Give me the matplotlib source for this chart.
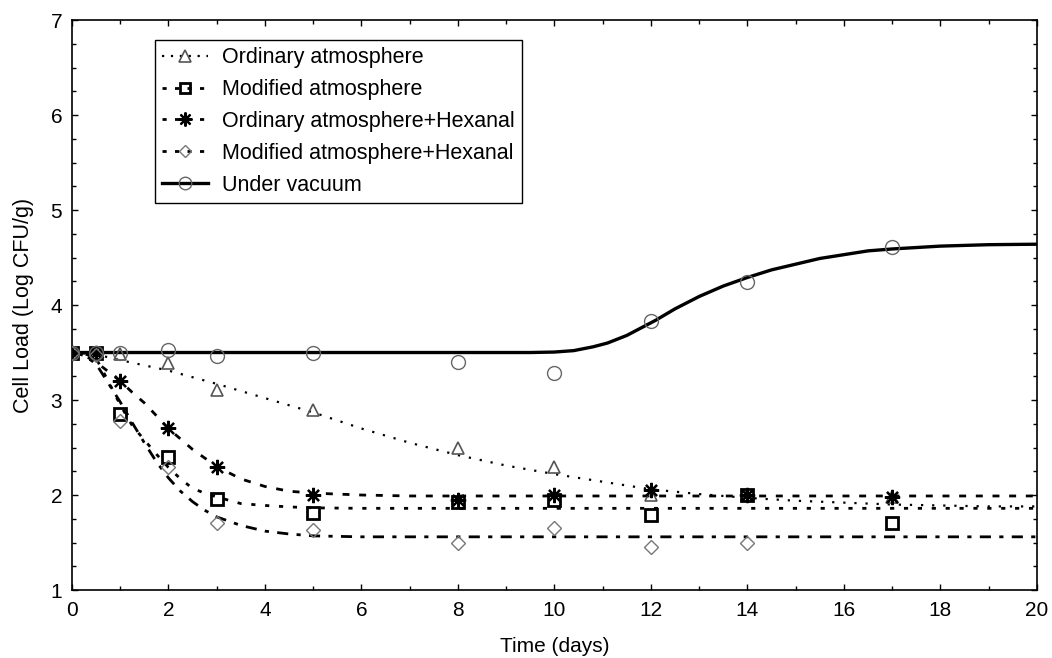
import matplotlib
matplotlib.use("Agg")
import matplotlib.pyplot as plt
from matplotlib.ticker import MultipleLocator

plt.rcParams['font.family'] = ['Liberation Sans', 'DejaVu Sans']

# ---- observed data (days, log CFU/g) ----
t_obs = [0, 0.5, 1, 2, 3, 5, 8, 10, 12, 14, 17]
oa_obs = [3.5, 3.5, 3.48, 3.39, 3.11, 2.89, 2.49, 2.29, 2.0, 2.0, 1.98]
ma_obs = [3.5, 3.5, 2.85, 2.40, 1.96, 1.81, 1.93, 1.95, 1.79, 2.0, 1.71]
oah_obs = [3.5, 3.5, 3.2, 2.71, 2.29, 2.0, 1.95, 2.0, 2.05, 2.0, 1.98]
t_mah = [0, 0.5, 1, 2, 3, 5, 8, 10, 12, 14]
mah_obs = [3.5, 3.47, 2.78, 2.29, 1.71, 1.63, 1.5, 1.65, 1.45, 1.49]
uv_obs = [3.5, 3.5, 3.5, 3.53, 3.46, 3.49, 3.4, 3.28, 3.83, 4.24, 4.61]

# ---- fitted curves ----
oa_fit_t = [0, 0.5, 1, 2, 3, 4, 5, 6, 7, 8, 9, 10, 11, 12, 13, 14, 15, 16, 17, 18, 19, 20]
oa_fit_y = [3.5, 3.48, 3.42, 3.31, 3.17, 3.02, 2.87, 2.70, 2.55, 2.42, 2.31, 2.22, 2.14,
            2.06, 2.01, 1.97, 1.94, 1.92, 1.90, 1.89, 1.88, 1.88]
ma_fit_t = [0, 0.25, 0.5, 0.75, 1.0, 1.25, 1.5, 1.75, 2.0, 2.25, 2.5, 2.75, 3.0, 3.5, 4, 4.5, 5, 6, 20]
ma_fit_y = [3.5, 3.49, 3.44, 3.2, 2.95, 2.73, 2.58, 2.43, 2.29, 2.17, 2.07, 2.02, 1.98,
            1.91, 1.89, 1.875, 1.865, 1.86, 1.86]
oah_fit_t = [0, 0.25, 0.5, 0.75, 1.0, 1.25, 1.5, 2.0, 2.5, 3.0, 3.5, 4, 4.5, 5, 6, 7, 20]
oah_fit_y = [3.5, 3.47, 3.4, 3.3, 3.2, 3.08, 2.97, 2.7, 2.48, 2.3, 2.17, 2.09, 2.04, 2.02,
             2.0, 1.99, 1.99]
mah_fit_t = [0, 0.25, 0.5, 0.75, 1.0, 1.25, 1.5, 1.75, 2.0, 2.25, 2.5, 2.75, 3.0, 3.5, 4, 4.5, 5, 6, 20]
mah_fit_y = [3.5, 3.47, 3.38, 3.18, 2.98, 2.76, 2.55, 2.35, 2.18, 2.04, 1.93, 1.84, 1.77,
             1.68, 1.62, 1.59, 1.57, 1.56, 1.56]
uv_fit_t = [0, 9.5, 10, 10.4, 10.8, 11.1, 11.5, 11.8, 12.1, 12.5, 13.0, 13.5, 14.0, 14.5,
            15.0, 15.5, 16, 16.5, 17, 18, 19, 20]
uv_fit_y = [3.5, 3.5, 3.505, 3.52, 3.56, 3.6, 3.68, 3.76, 3.84, 3.96, 4.09, 4.2, 4.29, 4.37,
            4.43, 4.49, 4.53, 4.57, 4.59, 4.62, 4.635, 4.64]

labels = ['Ordinary atmosphere', 'Modified atmosphere', 'Ordinary atmosphere+Hexanal',
          'Modified atmosphere+Hexanal', 'Under vacuum']

fig = plt.figure(figsize=(10.52, 6.58), dpi=100)
ax = fig.add_axes([0.0684, 0.1033, 0.9173, 0.8663])

gray = '#555555'
star = (8, 2, 0)

# fitted lines
ax.plot(oa_fit_t, oa_fit_y, color='black', lw=1.6, dashes=(1, 4), zorder=2)
ax.plot(ma_fit_t, ma_fit_y, color='black', lw=2.0, dashes=(1.5, 3.5), zorder=2)
ax.plot(oah_fit_t, oah_fit_y, color='black', lw=2.0, dashes=(2.5, 3.5), zorder=2)
ax.plot(mah_fit_t, mah_fit_y, color='black', lw=2.0, dashes=(4, 3, 1.5, 3), zorder=2)
ax.plot(uv_fit_t, uv_fit_y, color='black', lw=2.4, zorder=2)

# observed markers
ax.plot(t_obs, oa_obs, ls='none', marker='^', ms=9, mfc='none', mec=gray, mew=1.2, zorder=3)
ax.plot(t_obs, ma_obs, ls='none', marker='s', ms=8, mfc='none', mec='black', mew=2.0, zorder=3)
ax.plot(t_obs, oah_obs, ls='none', marker=star, ms=11, mfc='black', mec='black', mew=1.6, zorder=3)
ax.plot(t_mah, mah_obs, ls='none', marker='D', ms=7, mfc='none', mec='#777777', mew=1.0, zorder=3)
ax.plot(t_obs, uv_obs, ls='none', marker='o', ms=10, mfc='none', mec='#666666', mew=1.0, zorder=3)

# legend proxies
h1, = ax.plot([], [], color='black', lw=1.6, dashes=(1, 3), marker='^', ms=8, mfc='none', mec=gray, mew=1.2)
h2, = ax.plot([], [], color='black', lw=2.0, dashes=(1.5, 3), marker='s', ms=7.5, mfc='none', mec='black', mew=2.0)
h3, = ax.plot([], [], color='black', lw=2.0, dashes=(1.5, 3), marker=star, ms=10, mfc='black', mec='black', mew=1.6)
h4, = ax.plot([], [], color='black', lw=2.0, dashes=(1.5, 3), marker='D', ms=6.5, mfc='none', mec='#777777', mew=1.0)
h5, = ax.plot([], [], color='black', lw=2.4, marker='o', ms=9, mfc='none', mec='#666666', mew=1.0)
leg = ax.legend([h1, h2, h3, h4, h5], labels, loc='upper left', bbox_to_anchor=(0.086, 0.965),
                fontsize=15.5, frameon=True, fancybox=False, framealpha=1, edgecolor='black',
                handlelength=2.1, handletextpad=0.65, labelspacing=0.5, borderpad=0.35,
                borderaxespad=0)
leg.get_frame().set_linewidth(1.0)

ax.set_xlim(0, 20)
ax.set_ylim(1, 7)
ax.xaxis.set_major_locator(MultipleLocator(2))
ax.xaxis.set_minor_locator(MultipleLocator(1))
ax.yaxis.set_major_locator(MultipleLocator(1))
ax.yaxis.set_minor_locator(MultipleLocator(0.25))
ax.tick_params(which='both', direction='in', top=True, right=True, labelsize=15, width=1)
ax.tick_params(axis='x', which='major', length=4, pad=8)
ax.tick_params(axis='y', which='major', length=4, pad=7)
ax.tick_params(which='minor', length=3)
for s in ax.spines.values():
    s.set_linewidth(1.2)

ax.set_xlabel('Time (days)', fontsize=15, labelpad=12)
ax.set_ylabel('Cell Load (Log CFU/g)', fontsize=15.5, labelpad=12)

fig.savefig('out.png', dpi=100)
